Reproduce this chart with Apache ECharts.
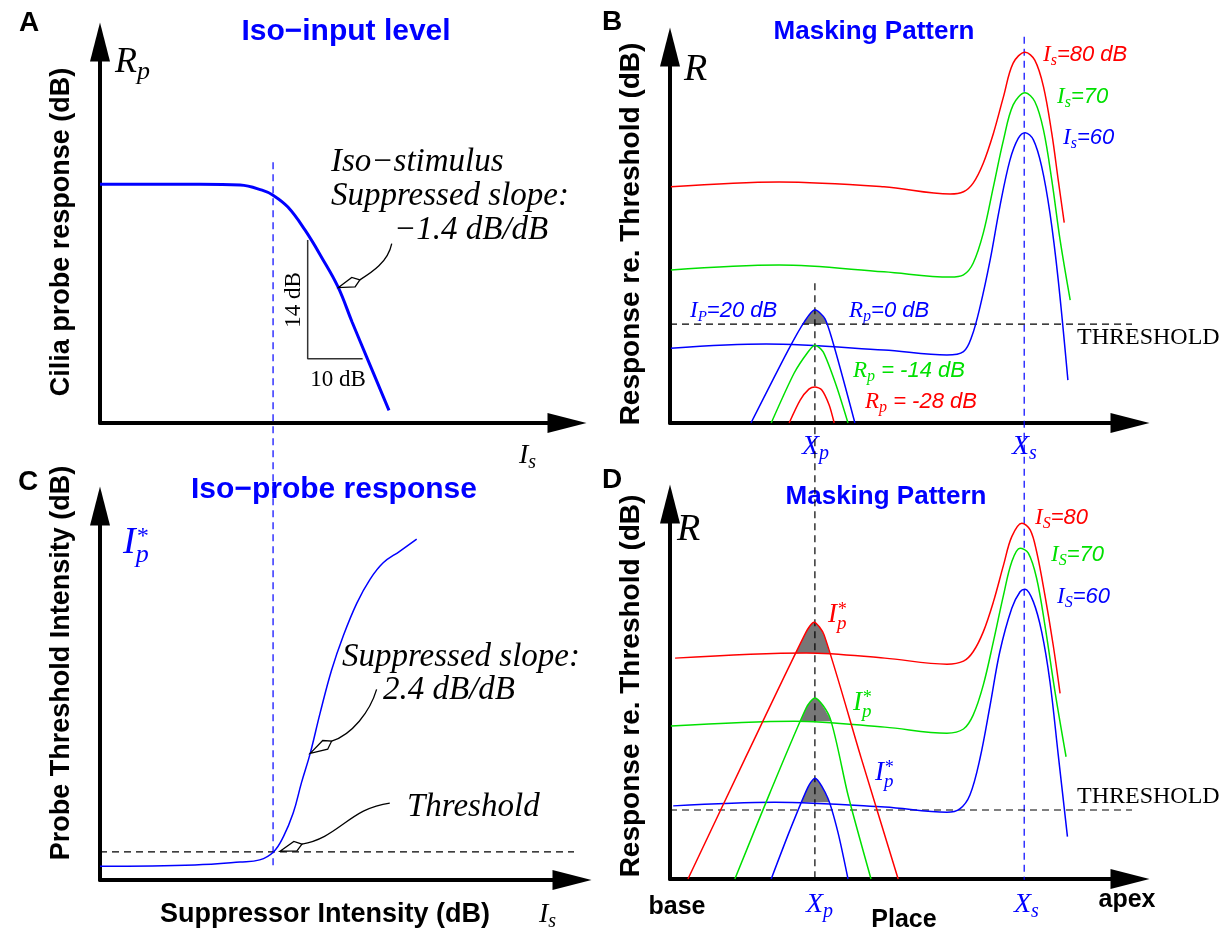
<!DOCTYPE html>
<html>
<head>
<meta charset="utf-8">
<script src="https://cdn.jsdelivr.net/npm/echarts@6/dist/echarts.min.js"></script>
<style>
  html, body { margin: 0; padding: 0; background: #fff; }
  #chart { width: 1226px; height: 935px; }
</style>
</head>
<body>
<div id="chart"></div>
<script>
// ---- panel A: iso-input level, axes in dB ----
const isoInputCurve = [[0, 28.2], [18.2, 28.2], [25.5, 28.1], [29.5, 27.5], [31.5, 26.9], [34.2, 25.5],
  [37.3, 22.8], [40.4, 19.5], [43.3, 16.1], [45.9, 11.9], [48.6, 7.7], [52.6, 1.5]];
const slopeTriangle = [[37.8, 21.6], [37.8, 7.6], [47.8, 7.6]];
const suppressorMarkA = [[31.5, 30.8], [31.5, -52.8]];
const pointerA = [[53.1, 21.2], [52.4, 19.0], [49.5, 17.8], [47.3, 16.9], [43.4, 16.0]];

// ---- panel C: iso-probe response, axes in dB ----
const isoProbeCurve = [[0, 1.9], [17.3, 2.1], [25.5, 2.5], [29.1, 2.8], [31.6, 3.9], [33.4, 6.0], [35.2, 9.3],
  [36.7, 13.5], [38.3, 17.6], [40.1, 23.2], [42.2, 29.2], [44.3, 33.9], [46.8, 38.5], [49.2, 41.8],
  [51.6, 44.1], [54.6, 45.7], [57.7, 47.4]];
const thresholdC = [[0, 3.9], [89.3, 3.9]];
const pointerSlopeC = [[50.4, 26.5], [49.2, 23.4], [45.9, 20.2], [42.2, 19.3], [38.3, 17.6]];
const pointerThreshC = [[52.8, 10.7], [45.5, 10.0], [43.4, 5.8], [36.8, 5.0], [32.8, 4.0]];

// ---- panel B: masking pattern (place 0-100, response 0-100) ----
const maskerB80 = [[0.2, 62.8], [23.7, 64.1], [46.5, 62.8], [60.9, 60.9], [63.8, 61.5], [65.9, 63.8], [68.1, 69.1],
  [70.3, 77.0], [72.5, 86.8], [74.6, 95.7], [77.2, 98.6], [79.3, 96.5], [81.2, 89.4], [83.0, 77.0],
  [84.4, 64.6], [85.7, 53.3]];
const maskerB70 = [[0.2, 40.7], [23.7, 42.0], [46.5, 40.2], [60.9, 38.8], [63.8, 39.4], [65.9, 42.5], [68.1, 50.5],
  [70.3, 62.8], [72.5, 75.3], [74.6, 84.6], [77.2, 87.8], [79.3, 85.5], [81.2, 77.9], [83.0, 64.6],
  [84.8, 48.7], [87.0, 32.7]];
const maskerB60 = [[0.2, 19.9], [20.9, 21.0], [46.5, 19.4], [60.2, 18.1], [63.8, 19.0], [65.6, 23.0], [67.4, 30.9],
  [69.6, 43.4], [71.7, 57.5], [73.9, 69.9], [75.7, 75.7], [77.2, 77.2], [79.0, 75.3], [80.8, 68.2],
  [82.6, 55.8], [84.4, 38.0], [86.5, 11.4]];
const probeB0 = [[17.6, 0], [25.7, 19.4], [29.3, 27.1], [31.5, 30.1], [33.7, 27.7], [35.9, 19.4], [40.2, 0]];
const probeB14 = [[22.0, 0], [27.0, 13.3], [30.0, 18.9], [31.5, 20.7], [33.3, 18.9], [36.1, 10.1], [38.7, 0]];
const probeB28 = [[25.9, 0], [28.3, 6.1], [30.2, 9.0], [31.5, 9.6], [33.0, 8.8], [34.6, 4.8], [35.7, 0]];
const capB = [[29.0, 26.3], [29.3, 27.1], [31.5, 30.1], [33.7, 27.7], [34.0, 26.3]];
const thresholdB = [[0, 26.3], [102.8, 26.3]];
const probePlaceMark = [[31.5, 37.2], [31.5, -122.1]];
const suppressorPlaceMark = [[77.0, 102.7], [77.0, -121.5]];

// ---- panel D: masking pattern at probe threshold ----
const maskerD80 = [[1.1, 58.9], [29.6, 60.3], [46.7, 58.9], [60.2, 57.3], [63.8, 58.1], [65.9, 60.6], [68.1, 65.9],
  [70.3, 73.9], [72.5, 83.7], [74.3, 91.3], [76.5, 94.9], [78.3, 93.1], [79.7, 87.3], [81.5, 75.7],
  [83.3, 62.4], [84.8, 49.5]];
const maskerD70 = [[0.2, 40.8], [27.0, 42.1], [46.7, 40.5], [60.2, 38.9], [63.8, 40.0], [65.9, 43.7], [68.1, 51.7],
  [70.3, 63.3], [72.5, 75.7], [74.3, 84.6], [76.1, 88.2], [77.9, 86.9], [79.7, 80.2], [81.5, 67.7],
  [83.7, 49.9], [86.1, 32.6]];
const maskerD60 = [[0.7, 19.5], [22.8, 20.5], [46.7, 19.2], [60.2, 17.8], [63.0, 18.7], [65.2, 22.4], [67.4, 32.2],
  [69.6, 46.4], [71.7, 60.6], [74.3, 72.2], [76.1, 76.6], [77.2, 77.3], [79.0, 73.9], [80.8, 65.9],
  [82.6, 52.6], [84.4, 33.1], [86.4, 11.3]];
const probeD80 = [[3.9, 0], [16.7, 33.1], [29.6, 65.9], [31.3, 68.5], [33.5, 65.1], [41.5, 32.5], [49.6, 0]];
const probeD70 = [[14.1, 0], [21.7, 22.9], [29.6, 45.6], [31.5, 48.3], [34.8, 42.9], [38.7, 22.4], [43.7, 0]];
const probeD60 = [[22.0, 0], [26.1, 13.1], [30.0, 24.5], [31.5, 26.9], [34.3, 21.6], [36.5, 12.5], [38.7, 0]];
const capD80 = [[27.4, 60.3], [29.6, 65.9], [31.3, 68.5], [33.5, 65.1], [34.7, 60.3]];
const capD70 = [[28.4, 42.1], [29.6, 45.6], [31.5, 48.3], [34.8, 42.9], [35.0, 42.1]];
const capD60 = [[28.6, 20.5], [30.0, 24.5], [31.5, 26.9], [34.3, 21.6], [34.6, 20.5]];
const thresholdD = [[0, 18.4], [106, 18.4]];

const xMax = [85, 100, 86, 100];
const yMax = [45, 100, 52, 100];

const BLUE = '#0000ff', RED = '#ff0000', GREEN = '#00e000', GRAY = '#777777';
const SERIF = '"Liberation Serif", "DejaVu Serif", serif';
const SANS = '"Liberation Sans", Arial, sans-serif';

const chart = echarts.init(document.getElementById('chart'), null, { renderer: 'canvas' });

const grids = [
  { left: 100, top: 42, width: 467, height: 381 },
  { left: 670, top: 47, width: 460, height: 376 },
  { left: 100, top: 506, width: 472, height: 374 },
  { left: 670, top: 504, width: 460, height: 375 }
];

function axis(i, max) {
  return {
    type: 'value', gridIndex: i, min: 0, max: max,
    axisLine: { show: true, onZero: false, symbol: ['none', 'triangle'], symbolSize: [20, 39],
      lineStyle: { color: '#000', width: 4 } },
    axisTick: { show: false }, axisLabel: { show: false }, splitLine: { show: false }
  };
}

function curve(g, data, color, width, extra) {
  return Object.assign({
    type: 'line', xAxisIndex: g, yAxisIndex: g, data: data, symbol: 'none', showSymbol: false,
    smooth: 0.35, silent: true, z: 3, lineStyle: { color: color, width: width }
  }, extra || {});
}
function guide(g, data, color) {
  return curve(g, data, color, 1.2, { smooth: false, clip: false, z: 2,
    lineStyle: { color: color, width: 1.2, type: [7, 5] } });
}
function cap(g, data, base) {
  return curve(g, data, GRAY, 0, { smooth: 0.3, z: 1, lineStyle: { opacity: 0 },
    areaStyle: { color: GRAY, opacity: 1, origin: base } });
}
function probe(g, data, color) {
  return curve(g, data, color, 1.5, { smooth: 0.25 });
}

chart.setOption({
  animation: false,
  backgroundColor: '#fff',
  grid: grids,
  xAxis: xMax.map((m, i) => axis(i, m)),
  yAxis: yMax.map((m, i) => axis(i, m)),
  series: [
    curve(0, isoInputCurve, BLUE, 3, { smooth: 0.4 }),
    curve(0, slopeTriangle, '#333', 1.5, { smooth: false }),
    guide(0, suppressorMarkA, BLUE),

    curve(2, isoProbeCurve, BLUE, 1.5, { smooth: 0.4 }),
    guide(2, thresholdC, '#000'),

    cap(1, capB, 26.3),
    curve(1, maskerB80, RED, 1.5),
    curve(1, maskerB70, GREEN, 1.5),
    curve(1, maskerB60, BLUE, 1.5),
    probe(1, probeB0, BLUE),
    probe(1, probeB14, GREEN),
    probe(1, probeB28, RED),
    guide(1, thresholdB, '#000'),
    guide(1, probePlaceMark, '#000'),
    guide(1, suppressorPlaceMark, BLUE),

    cap(3, capD80, 60.3),
    cap(3, capD70, 42.1),
    cap(3, capD60, 20.5),
    curve(3, maskerD80, RED, 1.5),
    curve(3, maskerD70, GREEN, 1.5),
    curve(3, maskerD60, BLUE, 1.5),
    probe(3, probeD80, RED),
    probe(3, probeD70, GREEN),
    probe(3, probeD60, BLUE),
    guide(3, thresholdD, '#000')
  ]
});

// ---- text and annotation helpers ----
const ctx2d = document.createElement('canvas').getContext('2d');

function fontOf(p) {
  return (p.it ? 'italic ' : '') + (p.bold ? 'bold ' : '') + p.size + 'px ' + p.fam;
}

function mathText(x, y, color, pieces) {
  let cx = 0;
  const children = pieces.map(p => {
    ctx2d.font = fontOf(p);
    const w = ctx2d.measureText(p.t).width;
    const el = {
      type: 'text', x: cx, y: p.dy || 0,
      style: { text: p.t, fontSize: p.size, fontFamily: p.fam, fontStyle: p.it ? 'italic' : 'normal',
        fontWeight: p.bold ? 'bold' : 'normal', fill: color, align: 'left', verticalAlign: 'middle' }
    };
    if (p.adv !== false) cx += w;
    return el;
  });
  return { type: 'group', x: x, y: y, silent: true, children: children };
}

const mi = (t, size, dy, adv) => ({ t: t, size: size, fam: SERIF, it: true, dy: dy || 0, adv: adv });
const so = (t, size) => ({ t: t, size: size, fam: SANS, it: true });

function label(x, y, text, o) {
  return {
    type: 'text', x: x, y: y, rotation: o.rot || 0, silent: true,
    style: { text: text, fontSize: o.size, fontFamily: o.fam || SANS, fontWeight: o.bold ? 'bold' : 'normal',
      fontStyle: o.it ? 'italic' : 'normal', fill: o.color || '#000', align: o.align || 'center', verticalAlign: 'middle' }
  };
}

function pointer(g, pts) {
  const p = pts.map(pt => chart.convertToPixel({ gridIndex: g }, pt));
  const tip = p[4], back = p[3];
  const dx = tip[0] - back[0], dy = tip[1] - back[1];
  const len = Math.sqrt(dx * dx + dy * dy);
  const ux = dx / len, uy = dy / len, nx = -uy, ny = ux;
  const wx = back[0] + ux * len * 0.3, wy = back[1] + uy * len * 0.3;
  return [
    { type: 'bezierCurve', silent: true, z: 10,
      shape: { x1: p[0][0], y1: p[0][1], cpx1: p[1][0], cpy1: p[1][1], cpx2: p[2][0], cpy2: p[2][1], x2: back[0], y2: back[1] },
      style: { stroke: '#000', lineWidth: 1.3, fill: null } },
    { type: 'polygon', silent: true, z: 10,
      shape: { points: [tip, [wx + nx * 5, wy + ny * 5], back, [wx - nx * 5, wy - ny * 5]] },
      style: { stroke: '#000', lineWidth: 1.3, fill: '#fff' } }
  ];
}

const bold = { bold: true, size: 28 };
const ann = { fam: SERIF, it: true, size: 33, align: 'left' };

const graphics = [
  // panel letters
  label(29, 23, 'A', bold), label(612, 22, 'B', bold), label(28, 482, 'C', bold), label(612, 480, 'D', bold),
  // titles
  label(346, 32, 'Iso\u2212input level', { bold: true, size: 30, color: BLUE }),
  label(874, 32, 'Masking Pattern', { bold: true, size: 26, color: BLUE }),
  label(334, 490, 'Iso\u2212probe response', { bold: true, size: 30, color: BLUE }),
  label(886, 497, 'Masking Pattern', { bold: true, size: 26, color: BLUE }),
  // y axis titles
  label(62, 232, 'Cilia probe response (dB)', { bold: true, size: 27, rot: Math.PI / 2 }),
  label(631, 234, 'Response re. Threshold (dB)', { bold: true, size: 28, rot: Math.PI / 2 }),
  label(62, 663, 'Probe Threshold Intensity (dB)', { bold: true, size: 27, rot: Math.PI / 2 }),
  label(631, 686, 'Response re. Threshold (dB)', { bold: true, size: 28, rot: Math.PI / 2 }),
  // x axis titles
  label(325, 915, 'Suppressor Intensity (dB)', { bold: true, size: 27 }),
  label(677, 907, 'base', { bold: true, size: 25 }),
  label(904, 920, 'Place', { bold: true, size: 25 }),
  label(1127, 900, 'apex', { bold: true, size: 25 }),
  // panel A annotations
  label(331, 162, 'Iso\u2212stimulus', ann),
  label(331, 196, 'Suppressed slope:', ann),
  label(394, 230, '\u22121.4 dB/dB', ann),
  label(294, 300, '14 dB', { fam: SERIF, size: 23, rot: Math.PI / 2 }),
  label(338, 380, '10 dB', { fam: SERIF, size: 23 }),
  mathText(115, 63, '#000', [mi('R', 36), mi('p', 26, 9)]),
  mathText(519, 456, '#000', [mi('I', 28), mi('s', 20, 7)]),
  // panel C annotations
  label(342, 657, 'Suppressed slope:', ann),
  label(383, 690, '2.4 dB/dB', ann),
  label(407, 807, 'Threshold', ann),
  mathText(123, 543, BLUE, [mi('I', 38), mi('*', 24, -6, false), mi('p', 26, 12)]),
  mathText(539, 915, '#000', [mi('I', 28), mi('s', 20, 7)]),
  // panel B labels
  mathText(684, 70, '#000', [mi('R', 38)]),
  mathText(1043, 55, RED, [mi('I', 23), mi('s', 16, 6), so('=80 dB', 22)]),
  mathText(1057, 97, GREEN, [mi('I', 23), mi('s', 16, 6), so('=70', 22)]),
  mathText(1063, 138, BLUE, [mi('I', 23), mi('s', 16, 6), so('=60', 22)]),
  mathText(690, 311, BLUE, [mi('I', 23), mi('P', 15, 6), so('=20 dB', 22)]),
  mathText(849, 311, BLUE, [mi('R', 23), mi('p', 16, 6), so('=0 dB', 22)]),
  mathText(853, 371, GREEN, [mi('R', 23), mi('p', 16, 6), so(' = -14 dB', 22)]),
  mathText(865, 402, RED, [mi('R', 23), mi('p', 16, 6), so(' = -28 dB', 22)]),
  label(1077, 338, 'THRESHOLD', { fam: SERIF, size: 24, align: 'left' }),
  mathText(802, 447, BLUE, [mi('X', 28), mi('p', 20, 7)]),
  mathText(1012, 447, BLUE, [mi('X', 28), mi('s', 20, 7)]),
  // panel D labels
  mathText(677, 530, '#000', [mi('R', 38)]),
  mathText(1035, 518, RED, [mi('I', 23), mi('S', 16, 6), so('=80', 22)]),
  mathText(1051, 555, GREEN, [mi('I', 23), mi('S', 16, 6), so('=70', 22)]),
  mathText(1057, 597, BLUE, [mi('I', 23), mi('S', 16, 6), so('=60', 22)]),
  mathText(828, 615, RED, [mi('I', 27), mi('*', 18, -5, false), mi('p', 19, 9)]),
  mathText(853, 703, GREEN, [mi('I', 27), mi('*', 18, -5, false), mi('p', 19, 9)]),
  mathText(875, 773, BLUE, [mi('I', 27), mi('*', 18, -5, false), mi('p', 19, 9)]),
  label(1077, 797, 'THRESHOLD', { fam: SERIF, size: 24, align: 'left' }),
  mathText(806, 905, BLUE, [mi('X', 28), mi('p', 20, 7)]),
  mathText(1014, 905, BLUE, [mi('X', 28), mi('s', 20, 7)])
].concat(pointer(0, pointerA), pointer(2, pointerSlopeC), pointer(2, pointerThreshC));

chart.setOption({ graphic: graphics });
</script>
</body>
</html>
